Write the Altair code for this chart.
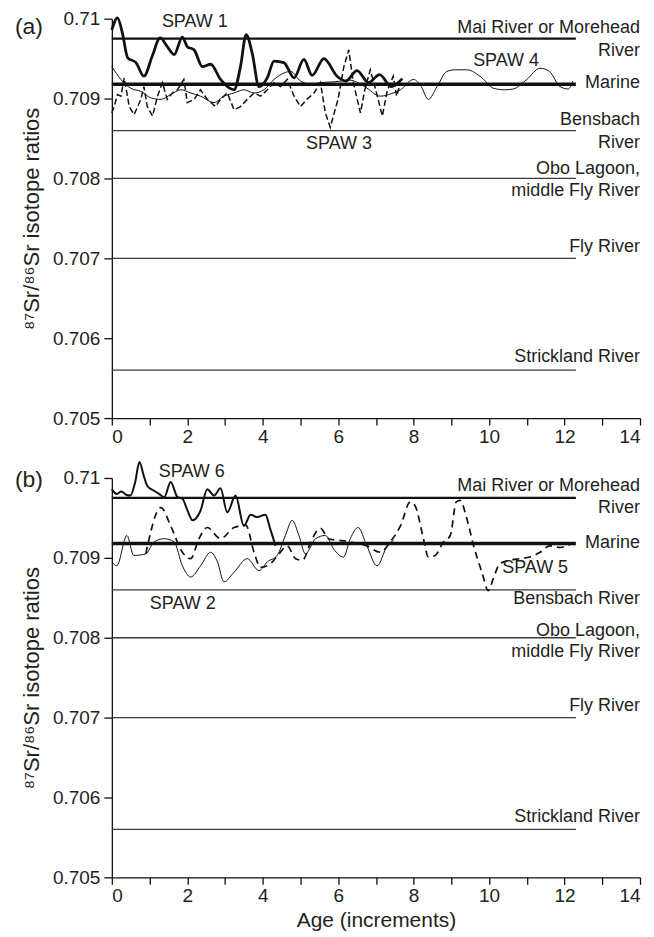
import altair as alt
import pandas as pd

FONT = "Liberation Sans"

# ---------------- reference lines ----------------
ref_names = ["Mai River or Morehead", "Marine", "Bensbach", "Obo Lagoon", "Fly River", "Strickland River"]
ref_values = [0.70975, 0.70918, 0.7086, 0.708, 0.707, 0.7056]
REF_START = 0.0
REF_END = 12.3

# ---------------- panel (a) series ----------------
spaw1_x = [0.0, 0.15, 0.28, 0.42, 0.64, 0.85, 1.07, 1.28, 1.47, 1.65, 1.87, 2.0, 2.18, 2.40, 2.62, 2.88,
           3.24, 3.41, 3.56, 3.72, 3.90, 4.12, 4.30, 4.56, 4.83, 5.09, 5.31, 5.62, 5.97, 6.2, 6.5, 6.8,
           7.1, 7.4, 7.7]
spaw1_y = [0.70986, 0.71001, 0.70982, 0.70951, 0.70945, 0.70928, 0.70953, 0.70976, 0.70965, 0.70955,
           0.70977, 0.70965, 0.70961, 0.70940, 0.70943, 0.70924, 0.70911, 0.70940, 0.70980, 0.70957,
           0.70915, 0.70926, 0.70947, 0.70945, 0.70926, 0.70949, 0.70929, 0.70950, 0.70928, 0.70922,
           0.70935, 0.70920, 0.70930, 0.70915, 0.70925]

spaw3_x = [0.0, 0.06, 0.15, 0.24, 0.33, 0.46, 0.59, 0.77, 0.85, 0.94, 1.08, 1.21, 1.34, 1.47, 1.60, 1.74,
           1.91, 2.0, 2.18, 2.35, 2.53, 2.75, 2.88, 3.06, 3.24, 3.41, 3.59, 3.77, 3.94, 4.12, 4.30, 4.47,
           4.65, 4.83, 5.0, 5.17, 5.36, 5.53, 5.66, 5.79, 6.0, 6.15, 6.28, 6.4, 6.59, 6.7, 6.85, 7.0,
           7.17, 7.3, 7.46, 7.55, 7.65]
spaw3_y = [0.70882, 0.70890, 0.70905, 0.70903, 0.70926, 0.70890, 0.70880, 0.70899, 0.70915, 0.70890,
           0.70878, 0.70903, 0.70920, 0.70899, 0.70907, 0.70911, 0.70924, 0.70895, 0.70899, 0.70911,
           0.70899, 0.70890, 0.70899, 0.70907, 0.70886, 0.70890, 0.70899, 0.70907, 0.70903, 0.70911,
           0.70920, 0.70915, 0.70924, 0.70903, 0.70890, 0.70899, 0.70907, 0.70920, 0.70882, 0.70864,
           0.70900, 0.70940, 0.70961, 0.70920, 0.70882, 0.70910, 0.70936, 0.70910, 0.70878, 0.70910,
           0.70928, 0.70903, 0.70920]

spaw4_x = [0.0, 0.24, 0.5, 0.77, 1.03, 1.3, 1.56, 1.83, 2.09, 2.35, 2.71, 2.97, 3.24, 3.5, 3.77, 4.03,
           4.3, 4.56, 4.74, 5.0, 5.27, 5.53, 5.9, 6.32, 6.7, 7.12, 7.4, 7.65, 8.0, 8.2, 8.39, 8.62, 8.88,
           9.1, 9.41, 9.81, 10.11, 10.4, 10.64, 11.0, 11.35, 11.6, 11.88, 12.1, 12.22]
spaw4_y = [0.70940, 0.70924, 0.70913, 0.70909, 0.70901, 0.70899, 0.70905, 0.70911, 0.70907, 0.70903,
           0.70895, 0.70903, 0.70907, 0.70911, 0.70907, 0.70911, 0.70924, 0.70932, 0.70934, 0.70922,
           0.70918, 0.70920, 0.70921, 0.70923, 0.70915, 0.70903, 0.70906, 0.70911, 0.70924, 0.70915,
           0.70899, 0.70915, 0.70934, 0.70936, 0.70936, 0.70926, 0.70913, 0.70911, 0.70912, 0.70924,
           0.70938, 0.70934, 0.70915, 0.70912, 0.70922]

# ---------------- panel (b) series ----------------
spaw6_x = [0.0, 0.13, 0.25, 0.38, 0.49, 0.62, 0.73, 0.85, 0.94, 1.12, 1.25, 1.39, 1.56, 1.74, 1.87, 2.0,
           2.14, 2.35, 2.53, 2.71, 2.88, 3.06, 3.28, 3.5, 3.68, 3.85, 4.07, 4.20, 4.34]
spaw6_y = [0.70986, 0.70980, 0.70983, 0.70979, 0.70978, 0.70995, 0.71020, 0.71002, 0.70990, 0.70984,
           0.70980, 0.70976, 0.70995, 0.70976, 0.70974, 0.70960, 0.70947, 0.70959, 0.70986, 0.70978,
           0.70987, 0.70957, 0.70978, 0.70940, 0.70954, 0.70951, 0.70954, 0.70936, 0.70915]

spaw2_x = [0.0, 0.13, 0.4, 0.58, 0.9, 1.12, 1.39, 1.65, 1.87, 2.09, 2.35, 2.62, 2.80, 2.97, 3.24, 3.59,
           3.9, 4.12, 4.38, 4.60, 4.78, 4.96, 5.13, 5.40, 5.66, 5.88, 6.14, 6.32, 6.53, 6.76, 7.03, 7.3, 7.47]
spaw2_y = [0.70895, 0.70890, 0.70928, 0.70903, 0.70905, 0.70920, 0.70924, 0.70920, 0.70890, 0.70876,
           0.70890, 0.70907, 0.70895, 0.70870, 0.70882, 0.70899, 0.70884, 0.70895, 0.70903, 0.70928,
           0.70947, 0.70928, 0.70905, 0.70924, 0.70928, 0.70911, 0.70901, 0.70924, 0.70938, 0.70915,
           0.70890, 0.70915, 0.70922]

spaw5_x = [0.9, 1.30, 1.56, 1.87, 2.09, 2.31, 2.53, 2.88, 3.24, 3.55, 3.77, 3.94, 4.21, 4.43, 4.65, 4.87,
           5.05, 5.31, 5.53, 5.75, 6.32, 6.76, 7.12, 7.38, 7.65, 7.91, 8.04, 8.26, 8.39, 8.57, 8.79,
           8.97, 9.13, 9.23, 9.41, 9.59, 9.81, 9.98, 10.11, 10.29, 10.56, 10.82, 11.08, 11.35, 11.61,
           11.88, 12.05, 12.2]
spaw5_y = [0.70905, 0.70963, 0.70940, 0.70907, 0.70899, 0.70924, 0.70938, 0.70924, 0.70938, 0.70941,
           0.70907, 0.70888, 0.70893, 0.70905, 0.70915, 0.70899, 0.70897, 0.70924, 0.70937, 0.70924,
           0.70920, 0.70915, 0.70907, 0.70920, 0.70940, 0.70970, 0.70965, 0.70924, 0.70901, 0.70903,
           0.70920, 0.70928, 0.70970, 0.70972, 0.70949, 0.70915, 0.70882, 0.70859, 0.70874, 0.70893,
           0.70897, 0.70899, 0.70901, 0.70907, 0.70915, 0.70913, 0.70915, 0.70918]

# ---------------- text annotations (text, x, y in data units) ----------------
a_label_text = ["Mai River or Morehead", "River", "Marine", "Bensbach", "River", "Obo Lagoon,",
                "middle Fly River", "Fly River", "Strickland River"]
a_label_y = [0.70988, 0.70960, 0.70920, 0.70873, 0.70844, 0.70812, 0.70784, 0.70714, 0.70576]
b_label_text = ["Mai River or Morehead", "River", "Marine", "Bensbach River", "Obo Lagoon,",
                "middle Fly River", "Fly River", "Strickland River"]
b_label_y = [0.70990, 0.70963, 0.70919, 0.70848, 0.70808, 0.70782, 0.70714, 0.70576]
LABEL_X = 14

a_spaw_text = ["SPAW 1", "SPAW 4", "SPAW 3"]
a_spaw_x = [2.2, 10.45, 6.02]
a_spaw_y = [0.70996, 0.70947, 0.70843]
b_spaw_text = ["SPAW 6", "SPAW 2", "SPAW 5"]
b_spaw_x = [2.12, 1.88, 11.22]
b_spaw_y = [0.71007, 0.70842, 0.70887]

x_ticks = list(range(0, 15))
y_ticks = [0.705, 0.706, 0.707, 0.708, 0.709, 0.710]
Y_TITLE = "\u2078\u2077Sr/\u2078\u2076Sr isotope ratios"

W, H = 529, 400
TXT = "#231f20"


def make_panel(tag, series, labels_text, labels_y, spaw_text, spaw_x, spaw_y, x_title):
    common = dict(grid=False, labelFont=FONT, titleFont=FONT, labelFontSize=19,
                  labelColor=TXT, titleColor=TXT, titleFontWeight="normal",
                  domainColor="#111", tickColor="#111", domainWidth=1.3, tickWidth=1.3)
    if x_title:
        xaxis = alt.Axis(values=x_ticks, labelExpr="datum.value % 2 == 0 ? datum.label : ''",
                         title=x_title, titleFontSize=21, tickSize=7, labelPadding=2, titlePadding=4, **common)
    else:
        xaxis = alt.Axis(values=x_ticks, labelExpr="datum.value % 2 == 0 ? datum.label : ''",
                         title=None, tickSize=7, labelPadding=2, **common)
    yaxis = alt.Axis(values=y_ticks, format=".3~f", title=Y_TITLE, titleFontSize=22, tickSize=8,
                     labelPadding=4, titlePadding=9, **common)
    X = lambda f: alt.X(f, type="quantitative", scale=alt.Scale(domain=[0, 14], nice=False, zero=False), axis=xaxis)
    Y = lambda f: alt.Y(f, type="quantitative", scale=alt.Scale(domain=[0.705, 0.71], nice=False, zero=False), axis=yaxis)

    refs = pd.DataFrame({"name": ref_names, "v": ref_values, "x0": REF_START, "x1": REF_END})
    layers = []
    thin = alt.Chart(refs).transform_filter(
        alt.FieldOneOfPredicate(field="name", oneOf=["Bensbach", "Obo Lagoon", "Fly River", "Strickland River"])
    ).mark_rule(color="#3a3a3a", strokeWidth=1.3).encode(x=X("x0"), x2="x1", y=Y("v"))
    mai = alt.Chart(refs).transform_filter(alt.datum.name == "Mai River or Morehead").mark_rule(
        color="#111", strokeWidth=2.2).encode(x=X("x0"), x2="x1", y=Y("v"))
    marine = alt.Chart(refs).transform_filter(alt.datum.name == "Marine").mark_rule(
        color="#111", strokeWidth=3.6).encode(x=X("x0"), x2="x1", y=Y("v"))
    layers += [thin, mai, marine]

    for xs, ys, width, dash, interp in series:
        df = pd.DataFrame({"x": xs, "y": ys})
        kw = dict(color="#111", strokeWidth=width, interpolate=interp, clip=False)
        if dash:
            kw["strokeDash"] = dash
        layers.append(alt.Chart(df).mark_line(**kw).encode(x=X("x"), y=Y("y")))

    lab = pd.DataFrame({"t": labels_text, "x": LABEL_X, "y": labels_y})
    layers.append(alt.Chart(lab).mark_text(align="right", baseline="middle", fontSize=18, font=FONT,
                                           color=TXT).encode(x=X("x"), y=Y("y"), text="t:N"))
    sp = pd.DataFrame({"t": spaw_text, "x": spaw_x, "y": spaw_y})
    layers.append(alt.Chart(sp).mark_text(align="center", baseline="middle", fontSize=18, font=FONT,
                                          color=TXT).encode(x=X("x"), y=Y("y"), text="t:N"))
    tg = pd.DataFrame({"t": [tag]})
    layers.append(alt.Chart(tg).mark_text(align="center", baseline="middle", fontSize=23, font=FONT,
                                          color=TXT).encode(
        x=alt.value(-83), y=alt.value(8 if tag == "(a)" else 2), text="t:N"))
    return alt.layer(*layers).properties(width=W, height=H)


panel_a = make_panel(
    "(a)",
    [(spaw4_x, spaw4_y, 1.0, None, "monotone"),
     (spaw3_x, spaw3_y, 1.5, [6, 3], "linear"),
     (spaw1_x, spaw1_y, 2.8, None, "monotone")],
    a_label_text, a_label_y, a_spaw_text, a_spaw_x, a_spaw_y, None)

panel_b = make_panel(
    "(b)",
    [(spaw2_x, spaw2_y, 1.0, None, "monotone"),
     (spaw5_x, spaw5_y, 1.7, [7, 5], "monotone"),
     (spaw6_x, spaw6_y, 2.0, None, "monotone")],
    b_label_text, b_label_y, b_spaw_text, b_spaw_x, b_spaw_y, "Age (increments)")

chart = alt.vconcat(panel_a, panel_b, spacing=60, bounds="flush").properties(
    padding={"left": 6, "top": 1, "right": 5, "bottom": 0}
).configure_view(stroke=None)

chart.save("out.html", embed_options={"renderer": "svg", "actions": False})
